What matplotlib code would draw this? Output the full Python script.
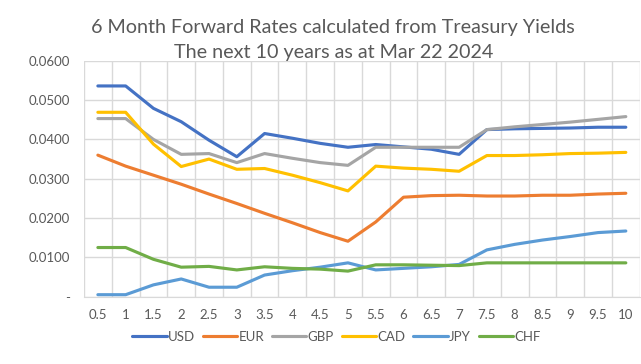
import matplotlib.pyplot as plt
import numpy as np

plt.rcParams['font.family'] = ['Lato', 'DejaVu Sans']

# tenor in years
tenors = ['0.5', '1', '1.5', '2', '2.5', '3', '3.5', '4', '4.5', '5',
          '5.5', '6', '6.5', '7', '7.5', '8', '8.5', '9', '9.5', '10']

usd = [0.0536, 0.0536, 0.0479, 0.0445, 0.0398, 0.0356, 0.0415, 0.0403, 0.0390, 0.0380,
       0.0387, 0.0381, 0.0375, 0.0362, 0.0425, 0.0427, 0.0428, 0.0429, 0.0431, 0.0431]
eur = [0.0360, 0.0332, 0.0309, 0.0286, 0.0261, 0.0237, 0.0212, 0.0188, 0.0163, 0.0141,
       0.0190, 0.0253, 0.0257, 0.0258, 0.0256, 0.0256, 0.0258, 0.0258, 0.0261, 0.0263]
gbp = [0.0453, 0.0453, 0.0400, 0.0362, 0.0364, 0.0341, 0.0364, 0.0352, 0.0341, 0.0334,
       0.0380, 0.0380, 0.0380, 0.0380, 0.0425, 0.0432, 0.0438, 0.0444, 0.0451, 0.0458]
cad = [0.0469, 0.0469, 0.0388, 0.0331, 0.0350, 0.0324, 0.0326, 0.0309, 0.0290, 0.0269,
       0.0332, 0.0327, 0.0324, 0.0319, 0.0359, 0.0359, 0.0361, 0.0364, 0.0365, 0.0367]
jpy = [0.0005, 0.0005, 0.0030, 0.0045, 0.0024, 0.0024, 0.0055, 0.0066, 0.0075, 0.0086,
       0.0068, 0.0072, 0.0076, 0.0082, 0.0119, 0.0133, 0.0144, 0.0153, 0.0163, 0.0167]
chf = [0.0125, 0.0125, 0.0095, 0.0075, 0.0077, 0.0068, 0.0076, 0.0072, 0.0070, 0.0065,
       0.0081, 0.0081, 0.0080, 0.0079, 0.0086, 0.0086, 0.0086, 0.0086, 0.0086, 0.0086]

series = [('USD', usd, '#4472C4'), ('EUR', eur, '#ED7D31'), ('GBP', gbp, '#A5A5A5'),
          ('CAD', cad, '#FFC000'), ('JPY', jpy, '#5B9BD5'), ('CHF', chf, '#70AD47')]

fig = plt.figure(figsize=(6.41, 3.64), dpi=100)
ax = fig.add_axes([0.131, 0.185, 0.867, 0.648])

x = np.arange(len(tenors))
for name, vals, col in series:
    ax.plot(x, vals, color=col, linewidth=2.25, label=name, solid_capstyle='round')

ax.set_xlim(-0.5, len(tenors) - 0.5)
ax.set_ylim(0, 0.06)
ax.set_xticks(x)
ax.set_xticklabels(tenors)
ax.set_xticks(np.arange(-0.5, len(tenors), 1), minor=True)
yt = np.arange(0, 0.061, 0.01)
ax.set_yticks(yt)
ax.set_yticklabels(['-'] + [f'{v:.4f}' for v in yt[1:]])

grey = '#D9D9D9'
ax.grid(axis='y', color=grey, linewidth=1)
ax.grid(axis='x', which='minor', color=grey, linewidth=1)
ax.set_axisbelow(True)
for s in ['top', 'right', 'left']:
    ax.spines[s].set_visible(False)
ax.spines['bottom'].set_color(grey)
ax.tick_params(axis='both', which='both', length=0, colors='#595959', labelsize=9.5)
ax.tick_params(axis='x', pad=9)
ax.tick_params(axis='y', pad=10)

# two-line title
fig.text(0.52, 0.909, '6 Month Forward Rates calculated from Treasury Yields',
         ha='center', va='baseline', fontsize=14.2, color='#595959')
fig.text(0.52, 0.841, 'The next 10 years as at Mar 22 2024',
         ha='center', va='baseline', fontsize=14.2, color='#595959')

leg = fig.legend(loc='center', bbox_to_anchor=(0.525, 0.075), ncol=6, frameon=False,
                 fontsize=9.5, handlelength=2.6, columnspacing=0.6, handletextpad=0.1)
for t in leg.get_texts():
    t.set_color('#595959')

fig.savefig('out.png', dpi=100)
